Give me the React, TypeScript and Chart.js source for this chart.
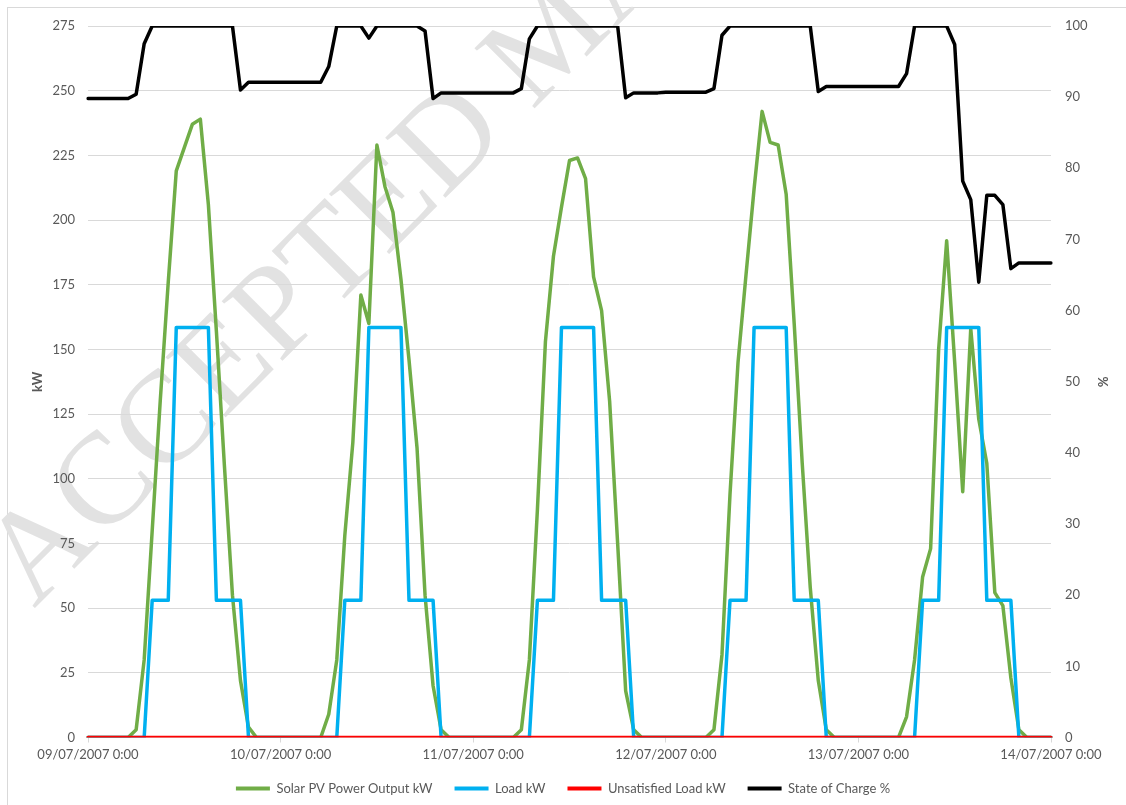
import React, { useEffect, useRef } from "react";
import { Chart, registerables } from "chart.js";

Chart.register(...registerables);

// ---- data (hourly, 09/07/2007 0:00 .. 14/07/2007 0:00) ----
const dayLabels = ["09", "10", "11", "12", "13"];
const endLabel = "14/07/2007 0:00";

const solarDay1 = [0, 0, 0, 0, 0, 0, 3, 30, 80, 130, 176, 219, 228, 237, 239, 206, 157, 105, 55, 22, 4, 0, 0, 0];
const solarDay2 = [0, 0, 0, 0, 0, 0, 9, 30, 78, 114, 171, 160, 229, 213, 203, 177, 146, 112, 55, 20, 3, 0, 0, 0];
const solarDay3 = [0, 0, 0, 0, 0, 0, 3, 30, 88, 153, 186, 205, 223, 224, 216, 178, 165, 130, 75, 18, 3, 0, 0, 0];
const solarDay4 = [0, 0, 0, 0, 0, 0, 3, 32, 94, 145, 179, 212, 242, 230, 229, 210, 160, 106, 58, 22, 3, 0, 0, 0];
const solarDay5 = [0, 0, 0, 0, 0, 0, 8, 30, 62, 73, 150, 192, 145, 95, 158, 123, 106, 56, 51, 23, 3, 0, 0, 0];
const solarEnd = [0];

const loadDay1 = [0, 0, 0, 0, 0, 0, 0, 0, 53, 53, 53, 158.5, 158.5, 158.5, 158.5, 158.5, 53, 53, 53, 53, 0, 0, 0, 0];
const loadDay2 = [0, 0, 0, 0, 0, 0, 0, 0, 53, 53, 53, 158.5, 158.5, 158.5, 158.5, 158.5, 53, 53, 53, 53, 0, 0, 0, 0];
const loadDay3 = [0, 0, 0, 0, 0, 0, 0, 0, 53, 53, 53, 158.5, 158.5, 158.5, 158.5, 158.5, 53, 53, 53, 53, 0, 0, 0, 0];
const loadDay4 = [0, 0, 0, 0, 0, 0, 0, 0, 53, 53, 53, 158.5, 158.5, 158.5, 158.5, 158.5, 53, 53, 53, 53, 0, 0, 0, 0];
const loadDay5 = [0, 0, 0, 0, 0, 0, 0, 0, 53, 53, 53, 158.5, 158.5, 158.5, 158.5, 158.5, 53, 53, 53, 53, 0, 0, 0, 0];
const loadEnd = [0];

const unmetDay1 = [0, 0, 0, 0, 0, 0, 0, 0, 0, 0, 0, 0, 0, 0, 0, 0, 0, 0, 0, 0, 0, 0, 0, 0];
const unmetDay2 = [0, 0, 0, 0, 0, 0, 0, 0, 0, 0, 0, 0, 0, 0, 0, 0, 0, 0, 0, 0, 0, 0, 0, 0];
const unmetDay3 = [0, 0, 0, 0, 0, 0, 0, 0, 0, 0, 0, 0, 0, 0, 0, 0, 0, 0, 0, 0, 0, 0, 0, 0];
const unmetDay4 = [0, 0, 0, 0, 0, 0, 0, 0, 0, 0, 0, 0, 0, 0, 0, 0, 0, 0, 0, 0, 0, 0, 0, 0];
const unmetDay5 = [0, 0, 0, 0, 0, 0, 0, 0, 0, 0, 0, 0, 0, 0, 0, 0, 0, 0, 0, 0, 0, 0, 0, 0];
const unmetEnd = [0];

const socDay1 = [89.8, 89.8, 89.8, 89.8, 89.8, 89.8, 90.4, 97.5, 100, 100, 100, 100, 100, 100, 100, 100, 100, 100, 100, 91.0, 92.1, 92.1, 92.1, 92.1];
const socDay2 = [92.1, 92.1, 92.1, 92.1, 92.1, 92.1, 94.3, 100, 100, 100, 100, 98.3, 100, 100, 100, 100, 100, 100, 99.3, 89.8, 90.6, 90.6, 90.6, 90.6];
const socDay3 = [90.6, 90.6, 90.6, 90.6, 90.6, 90.6, 91.2, 98.2, 100, 100, 100, 100, 100, 100, 100, 100, 100, 100, 100, 89.9, 90.6, 90.6, 90.6, 90.6];
const socDay4 = [90.7, 90.7, 90.7, 90.7, 90.7, 90.7, 91.2, 98.7, 100, 100, 100, 100, 100, 100, 100, 100, 100, 100, 100, 90.8, 91.5, 91.5, 91.5, 91.5];
const socDay5 = [91.5, 91.5, 91.5, 91.5, 91.5, 91.5, 93.3, 100, 100, 100, 100, 100, 97.4, 78.2, 75.6, 64.0, 76.2, 76.2, 74.9, 65.9, 66.7, 66.7, 66.7, 66.7];
const socEnd = [66.7];

const kwTicks = { min: 0, max: 275, step: 25 };
const pctTicks = { min: 0, max: 100, step: 10 };

const seriesNames = ["Solar PV Power Output kW", "Load kW", "Unsatisfied Load kW", "State of Charge %"];
const seriesColors = ["#70AD47", "#00B0F0", "#FF0000", "#000000"];

// category labels: one per hour
const timeLabels: string[] = [];
dayLabels.forEach((d) => {
  for (let h = 0; h < 24; h++) timeLabels.push(`${d}/07/2007 ${h}:00`);
});
timeLabels.push(endLabel);

const solar = [...solarDay1, ...solarDay2, ...solarDay3, ...solarDay4, ...solarDay5, ...solarEnd];
const load = [...loadDay1, ...loadDay2, ...loadDay3, ...loadDay4, ...loadDay5, ...loadEnd];
const unmet = [...unmetDay1, ...unmetDay2, ...unmetDay3, ...unmetDay4, ...unmetDay5, ...unmetEnd];
const soc = [...socDay1, ...socDay2, ...socDay3, ...socDay4, ...socDay5, ...socEnd];

const W = 1126;
const H = 805;
const TEXT = "#595959";
const GRID = "#d9d9d9";
const FONT = "Lato, 'Liberation Sans', sans-serif";

export default function App() {
  const ref = useRef<HTMLCanvasElement | null>(null);

  useEffect(() => {
    if (!ref.current) return;
    const lineBase = {
      pointRadius: 0,
      pointHoverRadius: 0,
      borderWidth: 3.5,
      tension: 0,
      borderJoinStyle: "round" as const,
      borderCapStyle: "round" as const,
      fill: false,
    };
    const chart = new Chart(ref.current, {
      type: "line",
      data: {
        labels: timeLabels,
        datasets: [
          { ...lineBase, label: seriesNames[0], data: solar, borderColor: seriesColors[0], backgroundColor: seriesColors[0], yAxisID: "y", order: 4 },
          { ...lineBase, label: seriesNames[1], data: load, borderColor: seriesColors[1], backgroundColor: seriesColors[1], yAxisID: "y", order: 3 },
          { ...lineBase, label: seriesNames[2], data: unmet, borderColor: seriesColors[2], backgroundColor: seriesColors[2], yAxisID: "y", order: 2 },
          { ...lineBase, label: seriesNames[3], data: soc, borderColor: seriesColors[3], backgroundColor: seriesColors[3], yAxisID: "y1", order: 1 },
        ],
      },
      options: {
        responsive: false,
        animation: false,
        events: [],
        layout: { padding: { top: 26, left: 0, right: 0, bottom: 0 } },
        font: { family: FONT },
        plugins: {
          tooltip: { enabled: false },
          legend: {
            position: "bottom",
            maxHeight: 46.5,
            labels: {
              boxWidth: 34,
              boxHeight: 4,
              padding: 22,
              color: TEXT,
              font: { family: FONT, size: 13 },
              sort: (a: any, b: any) => a.datasetIndex - b.datasetIndex,
              generateLabels: (c: any) =>
                Chart.defaults.plugins.legend.labels.generateLabels(c).map((it: any) => ({
                  ...it,
                  lineWidth: 0,
                  strokeStyle: it.fillStyle,
                })),
            },
          },
        },
        scales: {
          x: {
            type: "category",
            offset: false,
            grid: { display: true, drawOnChartArea: false, drawTicks: true, tickLength: 5, color: GRID },
            border: { display: true, color: GRID, width: 1 },
            ticks: {
              autoSkip: false,
              maxRotation: 0,
              minRotation: 0,
              padding: 5,
              color: TEXT,
              font: { family: FONT, size: 13 },
              callback: (_v: any, i: number) => {
                const lab = timeLabels[i];
                return lab && lab.endsWith(" 0:00") ? lab : null;
              },
            },
            afterFit: (s: any) => {
              s.height = 22.5;
            },
          },
          y: {
            type: "linear",
            position: "left",
            min: kwTicks.min,
            max: kwTicks.max,
            grid: { color: GRID, lineWidth: 1, drawTicks: false },
            border: { display: false },
            ticks: { stepSize: kwTicks.step, padding: 13, color: TEXT, font: { family: FONT, size: 13 } },
            title: {
              display: true,
              text: "kW",
              color: TEXT,
              font: { family: FONT, size: 13, weight: "bold" },
              padding: { top: 30, bottom: 0 },
            },
            afterFit: (s: any) => {
              s.width = 88;
            },
          },
          y1: {
            type: "linear",
            position: "right",
            min: pctTicks.min,
            max: pctTicks.max,
            grid: { display: false, drawTicks: false },
            border: { display: false },
            ticks: { stepSize: pctTicks.step, padding: 14, color: TEXT, font: { family: FONT, size: 13 } },
            title: {
              display: true,
              text: "%",
              color: TEXT,
              font: { family: FONT, size: 13, weight: "bold" },
              padding: { top: 16, bottom: 0 },
            },
            afterFit: (s: any) => {
              s.width = 75;
            },
          },
        },
      } as any,
    });
    return () => chart.destroy();
  }, []);

  return (
    <div style={{ position: "fixed", left: 0, top: 0, width: W, height: H, overflow: "hidden", background: "#fff" }}>
      <div
        style={{
          position: "absolute",
          left: 7,
          top: 7,
          width: 1300,
          height: 1000,
          border: "1px solid #d9d9d9",
          boxSizing: "border-box",
        }}
      />
      <div
        style={{
          position: "absolute",
          left: -43,
          top: 532,
          transform: "rotate(-45deg)",
          transformOrigin: "0 0",
          fontFamily: "'Liberation Serif', 'DejaVu Serif', serif",
          fontSize: 130,
          lineHeight: "130px",
          color: "#e2e2e2",
          whiteSpace: "nowrap",
        }}
      >
        ACCEPTED MANUSCRIPT
      </div>
      <canvas
        ref={ref}
        width={W}
        height={H}
        style={{ position: "absolute", left: 0, top: 0, width: W, height: H, display: "block" }}
      />
    </div>
  );
}
